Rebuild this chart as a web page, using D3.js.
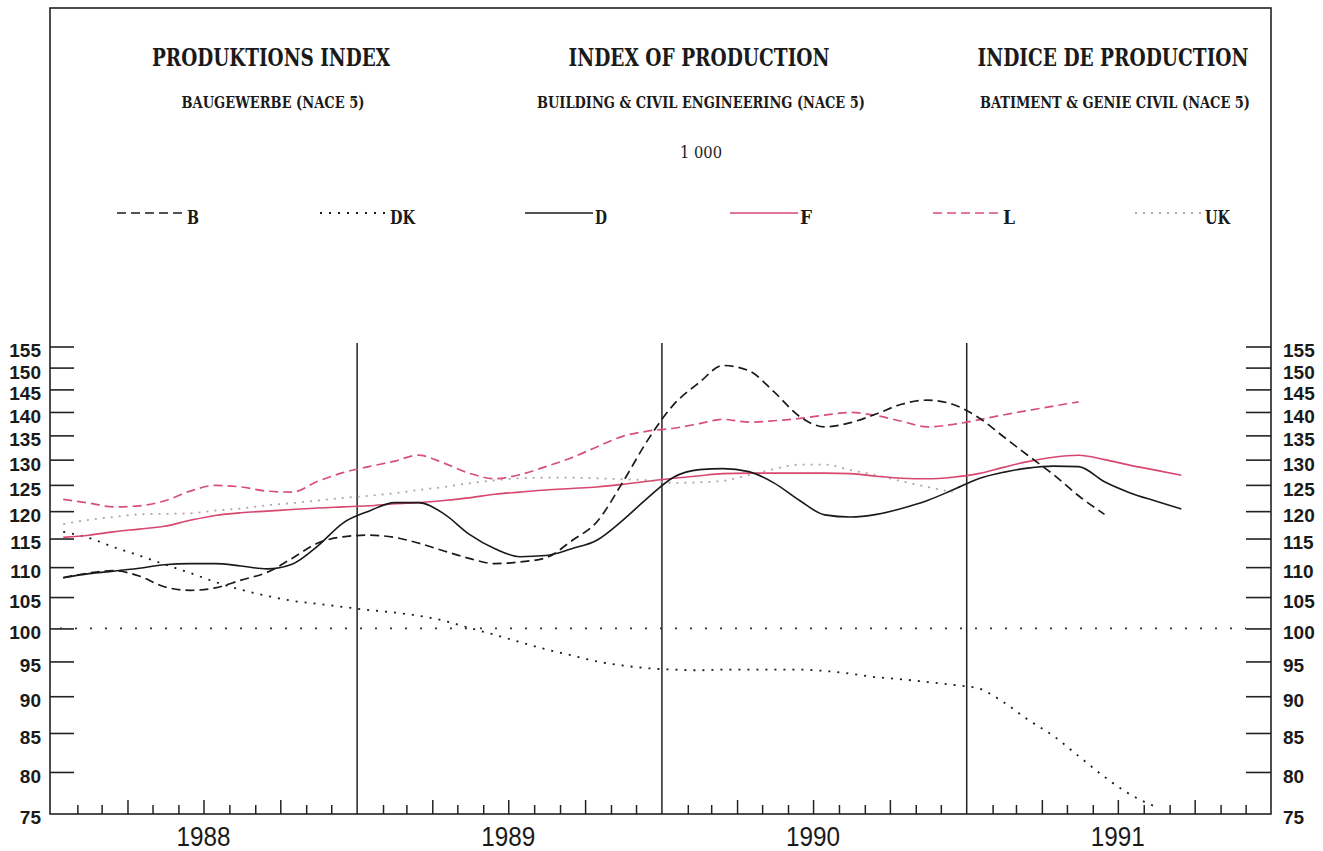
<!DOCTYPE html>
<html><head><meta charset="utf-8">
<script src="https://cdn.jsdelivr.net/npm/d3@7"></script>
<style>body{margin:0;background:#fff}svg{display:block}</style>
</head><body><svg id="c" width="1323" height="851"></svg>
<script>
// ---------- data ----------
const years = [1988, 1989, 1990, 1991];
const yTickValues = [75, 80, 85, 90, 95, 100, 105, 110, 115, 120, 125, 130, 135, 140, 145, 150, 155];
const titles = ["PRODUKTIONS INDEX", "INDEX OF PRODUCTION", "INDICE DE PRODUCTION"];
const subtitles = ["BAUGEWERBE (NACE 5)", "BUILDING & CIVIL ENGINEERING (NACE 5)", "BATIMENT & GENIE CIVIL (NACE 5)"];
const unitLabel = "1 000";
const seriesNames = ["B", "DK", "D", "F", "L", "UK"];

// monthly values starting January 1988
const valuesB = [108.2,109.0,109.4,108.5,106.7,106.1,106.5,107.8,109.1,111.5,114.2,115.3,
  115.6,115.2,114.2,112.8,111.5,110.6,110.9,111.6,114.6,118.0,125.5,134.0,
  141.6,146.6,150.5,149.3,144.5,139.0,136.8,137.7,139.6,141.7,142.6,141.7,
  138.8,134.6,130.9,127.0,122.9,119.4];
const valuesDK = [116.2,115.1,113.5,112.0,110.5,109.0,107.5,106.2,105.2,104.4,103.9,103.4,
  102.9,102.5,102.0,101.2,100.1,99.0,97.9,96.8,95.9,95.0,94.4,94.0,
  93.8,93.7,93.8,93.8,93.8,93.8,93.6,93.2,92.7,92.4,92.0,91.6,
  91.1,89.1,86.8,84.6,82.0,79.4,77.3,75.8];
const valuesD = [108.2,108.9,109.3,109.8,110.4,110.6,110.6,110.2,109.7,110.5,113.7,117.8,
  120.0,121.6,121.6,119.5,115.8,113.2,111.8,112.0,113.2,114.7,118.3,122.5,
  126.5,128.0,128.2,127.6,125.4,122.0,119.3,118.9,119.4,120.5,122.0,124.0,
  126.2,127.5,128.3,128.7,128.6,125.6,123.5,121.9,120.4];
const valuesF = [115.2,115.6,116.2,116.7,117.2,118.3,119.2,119.7,120.0,120.3,120.6,120.8,
  121.0,121.4,121.6,122.0,122.5,123.2,123.6,124.0,124.3,124.6,125.1,125.7,
  126.3,126.8,127.2,127.3,127.3,127.3,127.3,127.2,126.7,126.3,126.2,126.5,
  127.2,128.5,129.6,130.5,130.9,130.0,128.9,127.9,126.9];
const valuesL = [122.2,121.5,120.8,121.0,121.9,123.8,124.9,124.6,123.8,123.6,125.7,127.4,
  128.6,129.7,130.9,129.3,127.3,126.2,127.0,128.6,130.4,132.6,134.8,135.9,
  136.5,137.5,138.4,137.8,138.1,138.6,139.3,139.9,139.2,138.0,136.8,137.3,
  138.3,139.4,140.3,141.3,142.2];
const valuesUK = [117.6,118.4,118.9,119.4,119.5,119.6,120.1,120.5,121.1,121.5,122.0,122.5,
  122.9,123.4,124.0,124.6,125.3,125.9,126.3,126.4,126.4,126.3,126.1,125.9,
  125.4,125.5,125.8,126.9,128.1,129.0,129.0,127.9,126.9,125.7,124.6,123.6];

// ---------- styles ----------
const styles = {
  B:  {color: "#1a1a1a", dash: "9,5", width: 1.7},
  DK: {color: "#1a1a1a", dash: "2,7", width: 1.8},
  D:  {color: "#1a1a1a", dash: null, width: 1.6},
  F:  {color: "#d8476f", dash: null, width: 1.6},
  L:  {color: "#d84f7c", dash: "9,5", width: 1.7},
  UK: {color: "#b3a3ab", dash: "2,6", width: 1.8}
};
const seriesValues = {B: valuesB, DK: valuesDK, D: valuesD, F: valuesF, L: valuesL, UK: valuesUK};

(function () {
const svg = d3.select("#c");
const pLeft = 50, pRight = 1271, pTop = 8, pBottom = 814;

const x = d3.scaleTime()
  .domain([new Date(years[0], 0, 1), new Date(years[years.length - 1] + 1, 0, 1)])
  .range([51.5, 1271.5]);
const y = d3.scaleLog().domain([75, 155]).range([813.5, 346.5]);

const serifFont = "'DejaVu Serif Condensed','DejaVu Serif',serif";
const numFont = "'Liberation Sans Narrow','Liberation Sans',Arial,sans-serif";

// frame
svg.append("rect").attr("x", pLeft).attr("y", pTop).attr("width", pRight - pLeft).attr("height", pBottom - pTop)
  .attr("fill", "none").attr("stroke", "#222").attr("stroke-width", 1.6);

// titles
const titleX = [271, 699, 1113];
const titleW = [238, 261, 271];
const subX = [273, 701, 1115];
const subW = [183, 328, 270];
titles.forEach((t, i) => {
  svg.append("text").attr("x", titleX[i]).attr("y", 66).attr("text-anchor", "middle")
    .attr("font-family", serifFont).attr("font-weight", "bold").attr("font-size", 24)
    .attr("textLength", titleW[i]).attr("lengthAdjust", "spacingAndGlyphs")
    .attr("fill", "#1a1a1a").text(t);
});
subtitles.forEach((t, i) => {
  svg.append("text").attr("x", subX[i]).attr("y", 108).attr("text-anchor", "middle")
    .attr("font-family", serifFont).attr("font-weight", "bold").attr("font-size", 17)
    .attr("textLength", subW[i]).attr("lengthAdjust", "spacingAndGlyphs")
    .attr("fill", "#1a1a1a").text(t);
});
svg.append("text").attr("x", 701).attr("y", 158).attr("text-anchor", "middle")
  .attr("font-family", serifFont).attr("font-size", 16)
  .attr("textLength", 42).attr("lengthAdjust", "spacingAndGlyphs")
  .attr("fill", "#1a1a1a").text(unitLabel);

// legend
const legX = [117, 320, 525, 730, 933, 1135];
seriesNames.forEach((n, i) => {
  const s = styles[n];
  const g = svg.append("g");
  g.append("line").attr("x1", legX[i]).attr("x2", legX[i] + 68).attr("y1", 213).attr("y2", 213)
    .attr("stroke", s.color).attr("stroke-width", s.width).attr("stroke-dasharray", s.dash);
  g.append("text").attr("x", legX[i] + 70).attr("y", 224)
    .attr("font-family", serifFont).attr("font-weight", "bold").attr("font-size", 18)
    .attr("textLength", n.length === 1 ? 12 : 25).attr("lengthAdjust", "spacingAndGlyphs")
    .attr("fill", "#1a1a1a").text(n);
});

// y axes
const yl = svg.append("g").attr("transform", `translate(${pLeft},0)`)
  .call(d3.axisLeft(y).tickValues(yTickValues).tickSize(-24).tickPadding(9).tickFormat(d3.format("d")));
const yr = svg.append("g").attr("transform", `translate(${pRight},0)`)
  .call(d3.axisRight(y).tickValues(yTickValues).tickSize(-25).tickPadding(12).tickFormat(d3.format("d")));
[yl, yr].forEach(g => {
  g.select(".domain").remove();
  g.selectAll(".tick line").attr("stroke", "#222").attr("stroke-width", 1.6);
  g.selectAll(".tick").filter(d => d === 75).select("line").remove();
  g.selectAll(".tick text").attr("font-family", numFont).attr("font-weight", "bold")
    .attr("font-size", 19).attr("fill", "#1a1a1a").attr("dy", "0.55em");
});

// x axis (monthly ticks)
const xa = svg.append("g").attr("transform", `translate(0,${pBottom})`)
  .call(d3.axisBottom(x).ticks(d3.timeMonth.every(1)).tickSize(-9).tickFormat(""));
xa.select(".domain").remove();
xa.selectAll(".tick line").attr("stroke", "#222").attr("stroke-width", 1.5);
xa.selectAll(".tick").filter(d => d.getMonth() === 0).remove();
xa.selectAll(".tick").filter(d => d.getMonth() % 3 === 0).select("line").attr("y2", -14);

// year separators
years.slice(1).forEach(yr0 => {
  const xx = x(new Date(yr0, 0, 1));
  svg.append("line").attr("x1", xx).attr("x2", xx).attr("y1", 343).attr("y2", pBottom)
    .attr("stroke", "#222").attr("stroke-width", 1.5);
});
// year labels
years.forEach(yr0 => {
  svg.append("text").attr("x", x(new Date(yr0, 6, 1))).attr("y", 846).attr("text-anchor", "middle")
    .attr("font-family", numFont).attr("font-size", 28)
    .attr("textLength", 54).attr("lengthAdjust", "spacingAndGlyphs")
    .attr("fill", "#1a1a1a").text(yr0);
});

// reference line at 100
svg.append("line").attr("x1", 60).attr("x2", 1246).attr("y1", y(100)).attr("y2", y(100))
  .attr("stroke", "#333").attr("stroke-width", 1.8).attr("stroke-dasharray", "2,13");

// series
const line = d3.line().x((d, i) => x(new Date(years[0], i, 15))).y(d => y(d)).curve(d3.curveMonotoneX);
const drawOrder = ["UK", "DK", "F", "L", "D", "B"];
drawOrder.forEach(n => {
  const s = styles[n];
  svg.append("path").datum(seriesValues[n]).attr("d", line)
    .attr("fill", "none").attr("stroke", s.color).attr("stroke-width", s.width)
    .attr("stroke-dasharray", s.dash).attr("stroke-linejoin", "round");
});
})();
</script></body></html>
